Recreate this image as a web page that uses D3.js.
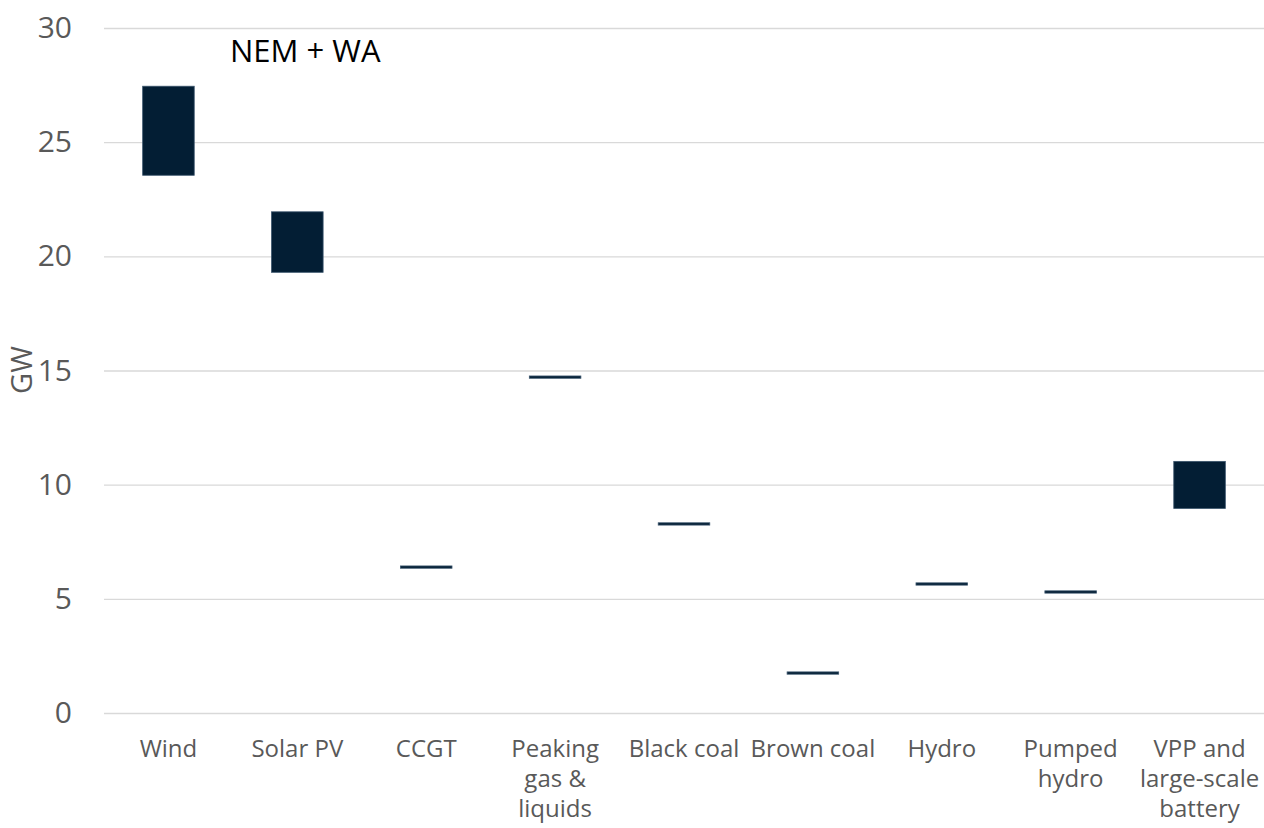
<!DOCTYPE html>
<html>
<head>
<meta charset="utf-8">
<script src="https://cdn.jsdelivr.net/npm/d3@7"></script>
<style>
  body { margin: 0; background: #fff; }
  svg { display: block; font-family: "Open Sans", sans-serif; }
</style>
</head>
<body>
<div class="c-chart"></div>
<script>
// categories, with manual line breaks like the original
var categories = ["Wind", "Solar PV", "CCGT", "Peaking\ngas &\nliquids", "Black coal",
    "Brown coal", "Hydro", "Pumped\nhydro", "VPP and\nlarge-scale\nbattery"];
// range of each bar (GW)
var lowValues = [23.55, 19.3, 6.34, 14.66, 8.23, 1.70, 5.60, 5.25, 8.96];
var highValues = [27.45, 21.95, 6.44, 14.76, 8.33, 1.80, 5.70, 5.35, 11.02];
var yTicks = [0, 5, 10, 15, 20, 25, 30];

var width = 1264, height = 828;
var margin = { top: 28, right: 0, bottom: 115, left: 104 };

var data = categories.map(function (c, i) {
    return { cat: c, low: lowValues[i], high: highValues[i] };
});

var svg = d3.select(".c-chart").append("svg")
    .attr("width", width)
    .attr("height", height);

var xScale = d3.scaleBand()
    .domain(categories)
    .range([margin.left, width - margin.right])
    .paddingInner(0.6)
    .paddingOuter(0.3);

var yScale = d3.scaleLinear()
    .domain([0, 30])
    .range([height - margin.bottom, margin.top]);

// grid lines
svg.append("g")
    .attr("transform", "translate(" + margin.left + ",0)")
    .call(d3.axisLeft(yScale).tickValues(yTicks)
        .tickSize(-(width - margin.left - margin.right)).tickFormat(""))
    .call(function (g) { g.select(".domain").remove(); })
    .selectAll("line").attr("stroke", "#d9d9d9").attr("stroke-width", 1.3);

// y tick labels
svg.append("g")
    .attr("transform", "translate(72,0)")
    .call(d3.axisLeft(yScale).tickValues(yTicks).tickSize(0).tickPadding(0))
    .call(function (g) { g.select(".domain").remove(); })
    .selectAll("text")
    .attr("fill", "#595959")
    .style("font-size", "30px")
    .style("font-family", "Open Sans, sans-serif");

// bars
svg.append("g").selectAll("rect")
    .data(data)
    .enter().append("rect")
    .attr("x", function (d) { return xScale(d.cat); })
    .attr("width", xScale.bandwidth())
    .attr("y", function (d) { return yScale(d.high); })
    .attr("height", function (d) { return yScale(d.low) - yScale(d.high); })
    .attr("fill", "#031e34")
    .attr("stroke", "#3a546c")
    .attr("stroke-width", 0.8);

// category labels
var xLabels = svg.append("g").selectAll("text")
    .data(categories)
    .enter().append("text")
    .attr("x", function (d) { return xScale(d) + xScale.bandwidth() / 2; })
    .attr("y", 757)
    .attr("text-anchor", "middle")
    .attr("fill", "#595959")
    .style("font-size", "24px");

xLabels.each(function (d) {
    var t = d3.select(this);
    d.split("\n").forEach(function (line, i) {
        t.append("tspan")
            .attr("x", t.attr("x"))
            .attr("dy", i === 0 ? 0 : 30)
            .text(line);
    });
});

// axis title
svg.append("text")
    .attr("transform", "translate(32,370) rotate(-90)")
    .attr("text-anchor", "middle")
    .attr("fill", "#595959")
    .style("font-size", "29px")
    .text("GW");

// chart title
svg.append("text")
    .attr("x", 230)
    .attr("y", 62)
    .attr("fill", "#000")
    .style("font-size", "31px")
    .text("NEM + WA");
</script>
</body>
</html>
